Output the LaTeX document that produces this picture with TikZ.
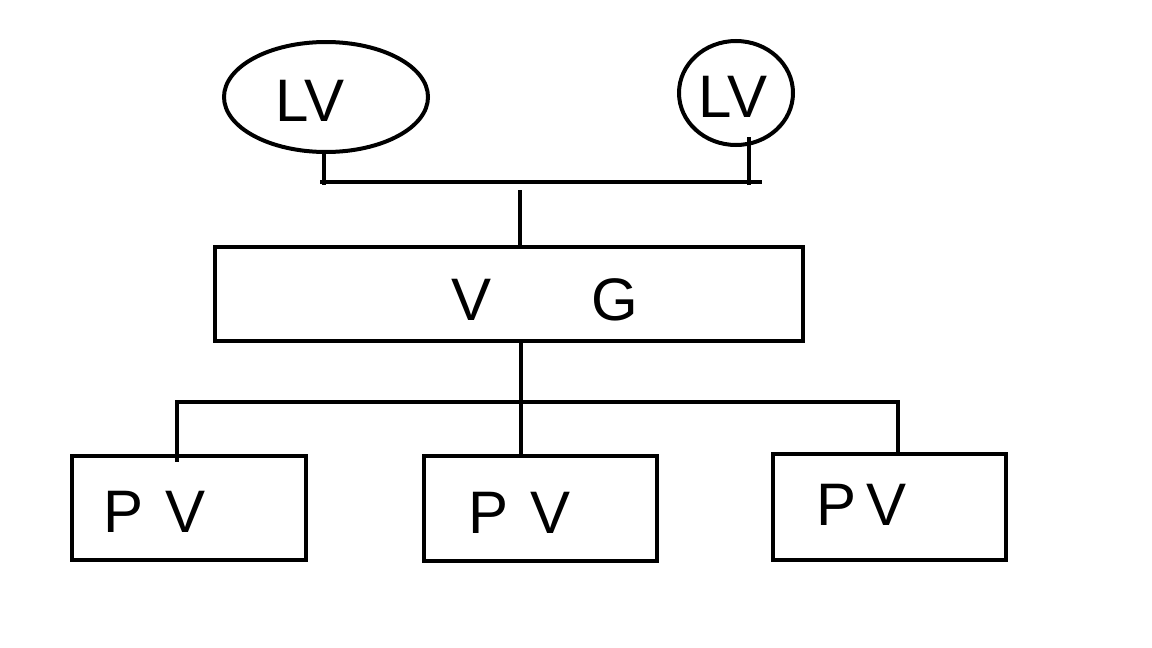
\documentclass[tikz,border=0pt]{standalone}
\usepackage{fontspec}
\setmainfont{Liberation Sans}
\usetikzlibrary{shapes.geometric}
\begin{document}
\begin{tikzpicture}[x=1pt,y=-1pt,
  wire/.style={line width=4pt,line cap=butt},
  boxshape/.style={draw,line width=4pt,rectangle,inner sep=0pt},
  lbl/.style={font=\fontsize{60}{64}\selectfont,inner sep=0pt}]
\useasboundingbox[fill=white] (0,0) rectangle (1152,648);
% top ellipses
\node[draw,line width=4pt,ellipse,minimum width=204pt,minimum height=110pt,inner sep=0pt] (lv1) at (326,97) {};
\node[draw,line width=4pt,ellipse,minimum width=114pt,minimum height=104pt,inner sep=0pt] (lv2) at (736,93) {};
\node[lbl] (lv1t) at (310,101) {LV};
\node[lbl] (lv2t) at (733,97) {LV};
% VG box
\node[boxshape,minimum width=588pt,minimum height=94pt] (vg) at (509,294) {};
\node[lbl] (vgt) at (545,300) {V\hspace{100pt}G};
% PV boxes
\node[boxshape,minimum width=234pt,minimum height=104pt] (pv1) at (189,508) {};
\node[boxshape,minimum width=233pt,minimum height=105pt] (pv2) at (540,508) {};
\node[boxshape,minimum width=233pt,minimum height=106pt] (pv3) at (889,507) {};
\node[lbl] (pv1t) at (155,512) {P\hspace{22pt}V};
\node[lbl] (pv2t) at (520,513) {P\hspace{22pt}V};
\node[lbl] (pv3t) at (862,505) {P\hspace{10pt}V};
% top bus
\coordinate (tl) at (320,182);
\coordinate (tr) at (762,182);
\coordinate (t1) at (324,185);
\coordinate (t2) at (749,185);
\coordinate (tc) at (520,190);
\draw[wire] (tl) -- (tr);
\draw[wire] (lv1.south -| t1) -- (t1);
\draw[wire] (749,137) -- (t2);
\draw[wire] (tc) -- (tc |- vg.north);
% bottom bus
\coordinate (bl) at (177,402);
\coordinate (bc) at (521,402);
\coordinate (br) at (898,402);
\draw[wire] (bc |- vg.south) -- (bc);
\draw[wire] ([xshift=-2pt]bl) -- ([xshift=2pt]br);
\draw[wire] (bl) -- (177,462);
\draw[wire] (bc) -- (bc |- pv2.north);
\draw[wire] (br) -- (br |- pv3.north);
\end{tikzpicture}
\end{document}
